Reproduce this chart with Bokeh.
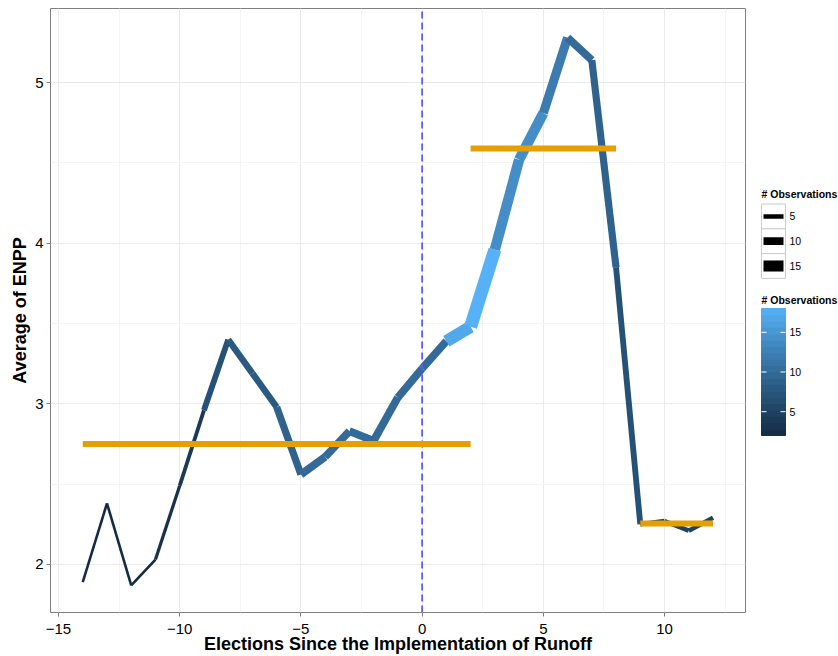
from bokeh.plotting import figure
from bokeh.models import Range1d, FixedTicker
from bokeh.layouts import row
from bokeh.embed import file_html
from bokeh.resources import INLINE
from bokeh.core.properties import value

# ---------------- data ----------------
elections = list(range(-14, 13))
enpp = [1.89, 2.38, 1.87, 2.03, 2.49, 2.96, 3.40, 3.19, 2.98, 2.56, 2.67, 2.83, 2.77,
        3.04, 3.22, 3.39, 3.48, 3.96, 4.52, 4.81, 5.28, 5.14, 3.85, 2.25, 2.27, 2.21, 2.29]
# number of observations for each segment (between consecutive elections)
seg_obs = [2, 2, 2, 3, 4, 7, 8, 8, 9, 10, 10, 10, 10, 10, 10, 17, 18, 14, 14, 12, 10, 9, 7, 5, 5, 5]

mean_start = [-14, 2, 9]
mean_end = [2, 8, 12]
mean_value = [2.75, 4.59, 2.255]

runoff_at = 0
x_ticks = [-15, -10, -5, 0, 5, 10]
y_ticks = [2, 3, 4, 5]
size_legend_values = [5, 10, 15]
color_legend_values = [5, 10, 15]
obs_min, obs_max = 2, 18

FONT = value("Liberation Sans")

# ---------------- scales ----------------
def width_for(n):
    return 1.3 + 0.65 * n

def _lin(c):
    c = c / 255.0
    return c / 12.92 if c <= 0.04045 else ((c + 0.055) / 1.055) ** 2.4

def _gam(c):
    c = 12.92 * c if c <= 0.0031308 else 1.055 * c ** (1 / 2.4) - 0.055
    return max(0, min(255, round(c * 255)))

def hex_to_lab(h):
    r, g, b = (_lin(int(h[i:i + 2], 16)) for i in (1, 3, 5))
    X = (0.4124 * r + 0.3576 * g + 0.1805 * b) / 0.95047
    Y = (0.2126 * r + 0.7152 * g + 0.0722 * b) / 1.0
    Z = (0.0193 * r + 0.1192 * g + 0.9505 * b) / 1.08883
    f = lambda t: t ** (1 / 3) if t > 0.008856 else 7.787 * t + 16 / 116
    fx, fy, fz = f(X), f(Y), f(Z)
    return 116 * fy - 16, 500 * (fx - fy), 200 * (fy - fz)

def lab_to_hex(L, a, b):
    fy = (L + 16) / 116
    fx = fy + a / 500
    fz = fy - b / 200
    finv = lambda t: t ** 3 if t ** 3 > 0.008856 else (t - 16 / 116) / 7.787
    X, Y, Z = finv(fx) * 0.95047, finv(fy), finv(fz) * 1.08883
    r = 3.2406 * X - 1.5372 * Y - 0.4986 * Z
    g = -0.9689 * X + 1.8758 * Y + 0.0415 * Z
    bb = 0.0557 * X - 0.2040 * Y + 1.0570 * Z
    return "#%02x%02x%02x" % (_gam(max(r, 0)), _gam(max(g, 0)), _gam(max(bb, 0)))

LOW, HIGH = hex_to_lab("#132B43"), hex_to_lab("#56B1F7")

def color_for(n):
    t = (n - obs_min) / (obs_max - obs_min)
    t = max(0.0, min(1.0, t))
    return lab_to_hex(*[LOW[i] + t * (HIGH[i] - LOW[i]) for i in range(3)])

# ---------------- main plot ----------------
x_lo, x_hi = -15.33, 13.34
y_lo, y_hi = 1.7006, 5.4615

p = figure(width=747, height=656, x_range=Range1d(x_lo, x_hi), y_range=Range1d(y_lo, y_hi),
           output_backend="svg", toolbar_location=None,
           min_border_left=50, min_border_right=2, min_border_top=8, min_border_bottom=44)
p.background_fill_color = "white"
p.outline_line_color = "#7F7F7F"
p.outline_line_width = 1

def minors(ticks):
    step = ticks[1] - ticks[0]
    return [t + step / 2 for t in [ticks[0] - step] + ticks]

p.xaxis.ticker = FixedTicker(ticks=x_ticks)
p.yaxis.ticker = FixedTicker(ticks=y_ticks)
p.xgrid.ticker = FixedTicker(ticks=x_ticks, minor_ticks=minors(x_ticks))
p.ygrid.ticker = FixedTicker(ticks=y_ticks, minor_ticks=minors(y_ticks))
for g in (p.xgrid, p.ygrid):
    g.grid_line_color = "#EBEBEB"
    g.grid_line_width = 1
    g.minor_grid_line_color = "#F5F5F5"
    g.minor_grid_line_width = 1

p.xaxis.major_label_overrides = {t: (str(t).replace("-", "\u2212")) for t in x_ticks}
for ax in (p.xaxis, p.yaxis):
    ax.axis_line_color = None
    ax.major_tick_in = 0
    ax.major_tick_out = 4
    ax.major_tick_line_color = "#7F7F7F"
    ax.minor_tick_line_color = None
    ax.major_label_text_font = "Liberation Sans"
    ax.major_label_text_font_size = "15px"
    ax.major_label_text_color = "black"
    ax.axis_label_text_font = "Liberation Sans"
    ax.axis_label_text_font_size = "18px"
    ax.axis_label_text_font_style = "bold"
    ax.axis_label_text_color = "black"
p.xaxis.axis_label = "Elections Since the Implementation of Runoff"
p.yaxis.axis_label = "Average of ENPP"
p.xaxis.major_label_standoff = 7
p.xaxis.axis_label_standoff = -3
p.yaxis.major_label_standoff = 3
p.yaxis.axis_label_standoff = 2

x0 = elections[:-1]
x1 = elections[1:]
y0 = enpp[:-1]
y1 = enpp[1:]
p.segment(x0=x0, y0=y0, x1=x1, y1=y1,
          line_width=[width_for(n) for n in seg_obs],
          line_color=[color_for(n) for n in seg_obs], line_cap="butt")

p.segment(x0=[runoff_at], y0=[y_lo], x1=[runoff_at], y1=[y_hi],
          line_color="#5C5CFF", line_width=1.8, line_dash="7 4")

p.segment(x0=mean_start, y0=mean_value, x1=mean_end, y1=mean_value,
          line_color="#E69F00", line_width=6, line_cap="butt")

# ---------------- legend panel (its frame is aligned with the main frame) ----------------
lg = figure(width=91, height=656, x_range=Range1d(747, 838), y_range=Range1d(612, 8),
            output_backend="svg", toolbar_location=None,
            min_border_left=0, min_border_right=0, min_border_top=8, min_border_bottom=44)
lg.outline_line_color = None
lg.axis.visible = False
lg.grid.visible = False
lg.background_fill_color = "white"

kx0, kx1 = 761, 785
lg.text(x=[kx0], y=[193], text=["# Observations"], text_font=FONT, text_font_style="bold",
        text_font_size="10.5px", text_baseline="middle", text_align="left", text_color="black")
key_top = 203.5
key_h = 24.8
tops = [key_top + i * key_h for i in range(len(size_legend_values))]
lg.quad(left=kx0, right=kx1, top=tops, bottom=[t + key_h for t in tops],
        fill_color="white", line_color="#CCCCCC", line_width=1)
mids = [t + key_h / 2 for t in tops]
lg.segment(x0=kx0 + 2, x1=kx1 - 2, y0=mids, y1=mids, line_color="black",
           line_width=[width_for(n) for n in size_legend_values], line_cap="butt")
lg.text(x=[789] * len(size_legend_values), y=mids, text=[str(v) for v in size_legend_values],
        text_font=FONT, text_font_size="10.5px", text_baseline="middle", text_color="black")

lg.text(x=[kx0], y=[299], text=["# Observations"], text_font=FONT, text_font_style="bold",
        text_font_size="10.5px", text_baseline="middle", text_align="left", text_color="black")
bar_top, bar_bot = 308, 435
nbin = 20
step = (obs_max - obs_min) / nbin
ppu = (bar_bot - bar_top) / (obs_max - obs_min)
bins_lo = [obs_min + i * step for i in range(nbin)]
bin_cols = [color_for(v + step / 2) for v in bins_lo]
lg.quad(left=kx0, right=kx1,
        bottom=[bar_bot - (v - obs_min) * ppu for v in bins_lo],
        top=[bar_bot - (v + step - obs_min) * ppu for v in bins_lo],
        fill_color=bin_cols, line_color=bin_cols, line_width=1)
cy = [bar_bot - (v - obs_min) * ppu for v in color_legend_values]
lg.segment(x0=kx0, x1=kx0 + 5, y0=cy, y1=cy, line_color="white", line_width=1)
lg.segment(x0=kx1 - 5, x1=kx1, y0=cy, y1=cy, line_color="white", line_width=1)
lg.text(x=[789] * len(color_legend_values), y=cy, text=[str(v) for v in color_legend_values],
        text_font=FONT, text_font_size="10.5px", text_baseline="middle", text_color="black")

layout = row(p, lg, spacing=0)
open("out.html", "w").write(file_html(layout, INLINE))
